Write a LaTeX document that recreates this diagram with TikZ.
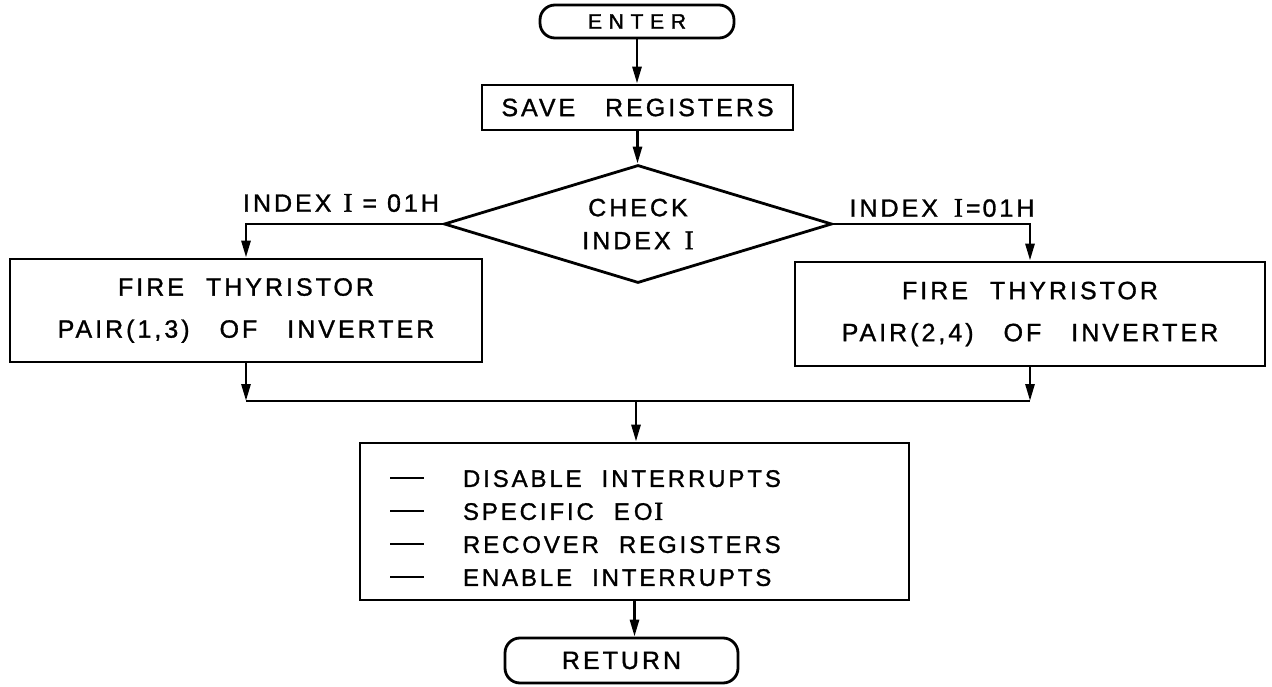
\documentclass[tikz,border=0pt]{standalone}
\usepackage{fontspec}
\setmainfont{Liberation Sans}
\newfontfamily\lett[LetterSpace=12,WordSpace=3,FakeBold=1.2]{Liberation Sans}
\newfontfamily\lettwide[LetterSpace=32,WordSpace=3,FakeBold=1.6]{Liberation Sans}
\newfontfamily\serifI[FakeBold=1.6,Scale=1.08]{Liberation Serif}
\newcommand\Ibar{{\serifI I}\hspace{3pt}}
\newcommand\dashbar{\rule[0.33em]{34pt}{2.2pt}\hspace{39pt}}
\newcommand\gap{\hspace{20pt}}
\usetikzlibrary{shapes.geometric,arrows.meta}

\begin{document}
\begin{tikzpicture}[x=1pt,y=-1pt,
  every node/.style={font=\lett\fontsize{25}{42}\selectfont},
  line/.style={line width=2.8pt},
  arr/.style={line, -{Triangle[length=17pt,width=9pt]}},
  proc/.style={draw, line width=2.8pt, rectangle, inner sep=0pt, align=center},
  term/.style={draw, line width=2.8pt, rectangle, rounded corners=15pt, inner sep=0pt},
  decide/.style={draw, line width=2.8pt, diamond, aspect=3.29, inner sep=0pt, align=center},
  lbl/.style={inner sep=0pt}
]
\useasboundingbox (0,0) rectangle (1272,687);

% terminals and steps
\node[term, minimum width=194pt, minimum height=33pt,
      font=\lettwide\fontsize{21}{24}\selectfont] (enter) at (637,21.5) {ENTER};
\node[proc, minimum width=311pt, minimum height=45pt] (save) at (637.5,107.5) {SAVE REGISTERS};
\node[decide, minimum width=388pt, minimum height=118pt,
      font=\lett\fontsize{25}{33}\selectfont] (check) at (638,224) {CHECK\\INDEX\hspace{14pt}\Ibar};
\node[proc, minimum width=472pt, minimum height=103pt] (left) at (246,310.5)
  {FIRE\hspace{22pt}THYRISTOR\\PAIR(1,3)\hspace{30pt}OF\hspace{30pt}INVERTER};
\node[proc, minimum width=470pt, minimum height=104pt] (right) at (1030,314)
  {FIRE\hspace{22pt}THYRISTOR\\PAIR(2,4)\hspace{30pt}OF\hspace{30pt}INVERTER};
\coordinate (merge) at (636,401);
\node[proc, minimum width=549pt, minimum height=157pt, text width=489pt,
      inner xsep=30pt, align=left,
      font=\lett\fontsize{24}{33}\selectfont] (finish) at (634.5,521.5)
  {\rule{0pt}{30pt}\dashbar DISABLE\gap INTERRUPTS\\
   \dashbar SPECIFIC\gap E\hspace{4pt}O\hspace{2pt}\Ibar\\
   \dashbar RECOVER\gap REGISTERS\\
   \dashbar ENABLE\gap INTERRUPTS};
\node[term, minimum width=233pt, minimum height=45pt] (ret) at (621.5,660.5) {RETURN};

% branch labels
\node[lbl] (lyes) at (341,203) {INDEX\hspace{12pt}\Ibar\hspace{7pt}=\hspace{10pt}01H};
\node[lbl] (ryes) at (942,208) {INDEX\hspace{16pt}\Ibar=\hspace{2pt}01H};

% connectors
\draw[arr] (enter.south) -- (enter.south |- save.north);
\draw[arr] (save.south) -- (save.south |- check.north);
\draw[arr] (check.west) -| (left.north);
\draw[arr] (check.east) -| (right.north);
\draw[arr] (left.south) -- (left.south |- merge);
\draw[arr] (right.south) -- (right.south |- merge);
\draw[line] (left.south |- merge) -- (right.south |- merge);
\draw[arr] (merge) -- (merge |- finish.north);
\draw[arr] (finish.south) -- (finish.south |- ret.north);
\end{tikzpicture}
\end{document}
